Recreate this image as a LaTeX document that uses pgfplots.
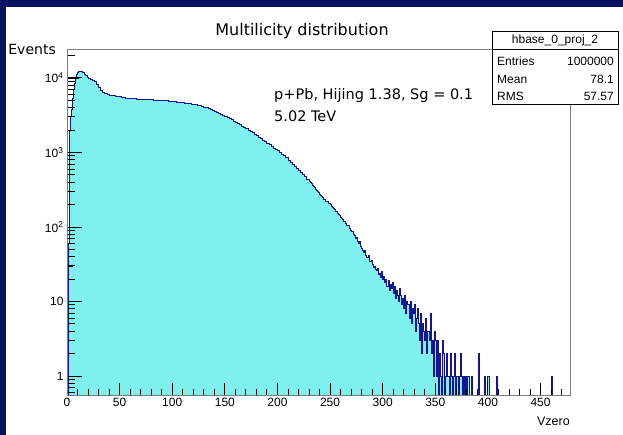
\documentclass[border=0pt]{standalone}
\usepackage{pgfplots}
\pgfplotsset{compat=1.18}
\usepackage{pgfplotstable}
\usepackage{fontspec}
\setmainfont{Liberation Sans}
\newfontfamily\dejavu{DejaVu Sans}
\definecolor{navy}{RGB}{8,18,96}
\definecolor{hfill}{RGB}{126,240,238}
\definecolor{hline}{RGB}{20,20,150}
\definecolor{framegray}{RGB}{125,125,125}
\pgfplotstableread{
x y
0 0.001
1 60
2 1950
3 3000
4 3800
5 5250
6 7080
7 8510
8 9800
9 11000
10 11700
11 12100
12 12300
13 12300
14 12200
15 12000
16 11700
17 11300
18 10800
19 10300
20 9900
22 9440
24 9230
26 8900
28 8130
30 7410
32 6900
34 6460
36 6170
38 6000
40 5920
42 5890
44 5800
46 5730
48 5680
50 5600
52 5500
54 5400
56 5330
58 5300
60 5280
62 5260
64 5250
66 5230
68 5200
70 5180
72 5160
74 5140
76 5120
78 5100
80 5080
82 5060
84 5040
86 5020
88 5010
90 4990
92 4960
94 4920
96 4900
98 4870
100 4820
102 4790
104 4760
106 4720
108 4680
110 4650
112 4620
114 4580
116 4530
118 4480
120 4440
122 4380
124 4310
126 4240
128 4170
130 4080
132 3990
134 3900
136 3800
138 3680
140 3580
142 3460
144 3350
146 3260
148 3160
150 3060
152 2950
154 2870
156 2780
158 2620
160 2520
162 2430
164 2360
166 2230
168 2150
170 2080
172 1990
174 1890
176 1830
178 1740
180 1680
182 1590
184 1530
186 1450
188 1390
190 1320
192 1270
194 1190
196 1150
198 1090
200 1050
202 1010
204 950
206 900
208 860
210 790
212 745
214 700
216 655
218 610
220 570
222 535
224 500
226 470
228 440
230 410
231 392
232 386
233 360
234 352
235 338
236 318
237 312
238 296
239 290
240 276
241 268
242 255
243 250
244 236
245 232
246 221
247 219
248 205
249 206
250 199
251 188
252 184
253 177
254 171
255 160
256 162
257 151
258 147
259 142
260 136
261 129
262 127
263 119
264 118
265 110
266 104
267 106
268 95
269 91
270 88
271 86
272 80
273 77
274 70
275 72
276 64
277 61
278 63
279 54
280 52
281 49
282 46
283 48
284 41
285 39
286 42
287 35
288 34
289 36
290 31
291 29
292 30
293 27
294 26
295 28
296 23
297 24
298 21
299 25
300 20
301 22
302 18
303 20
304 16
305 19
306 14
307 17
308 15
309 18
310 13
311 16
312 11
313 14
314 12
315 10
316 15
317 12
318 9
319 11
320 8
321 12
322 7
323 10
324 9
325 6
326 10
327 5
328 8
329 7
330 9
331 4
332 6
333 8
334 5
335 3
336 7
337 2
338 5
339 4
340 3
341 6
342 2
343 4
344 3
345 7
346 2
347 3
348 1
349 4
350 3
351 1
352 3
353 0.001
354 2
355 1
356 0.001
357 3
358 2
359 0.001
360 1
361 2
362 1
363 0.001
364 2
365 1
366 0.001
367 1
368 2
369 0.001
370 1
372 0.001
373 1
374 2
375 1
376 0.001
377 1
378 0.001
379 1
380 0.001
381 1
382 0.001
384 1
385 0.001
391 2
392 0.001
397 1
398 0.001
400 1
401 0.001
408 1
409 0.001
460 1
461 0.001
478 0.001
}\hist
\begin{document}
\begin{tikzpicture}
\fill[navy] (0bp,0bp) rectangle (623bp,435bp);
\fill[white] (6bp,0bp) rectangle (623bp,428bp);
\begin{axis}[
  at={(67bp,40bp)}, anchor=south west, scale only axis,
  width=503bp, height=346bp,
  ymode=log, xmin=0, xmax=478, ymin=0.556, ymax=24500,
  axis on top,
  axis line style={framegray, line width=0.9bp},
  xtick={0,50,...,500}, minor x tick num=4,
  ytick={1,10,100,1000,10000},
  yticklabels={1,10,10\textsuperscript{2},10\textsuperscript{3},10\textsuperscript{4}},
  tick align=inside, tick pos=left,
  major tick length=12bp, minor tick length=6bp,
  tick style={black, line width=0.9bp},
  ticklabel style={font=\fontsize{12bp}{14bp}\selectfont},
  /pgf/number format/assume math mode=true,
  scaled x ticks=false,
]
\addplot[const plot mark left, fill=hfill, draw=hline, line width=0.9bp] table[x=x,y=y] {\hist} -- cycle;
\end{axis}
\begin{scope}[x=1bp, y=1bp]
\foreach \e in {0,1,2,3,4}{
  \draw[black, line width=1bp] (67.5,{40+(\e+0.2549)*74.503}) -- ++(14,0);
}
\foreach \e in {0,1,2,3}{
  \foreach \k in {2,3,4,5,6,7,8,9}{
    \draw[black, line width=1bp] (67.5,{40+(\e+log10(\k)+0.2549)*74.503}) -- ++(7,0);
  }
}
\foreach \k in {6,7,8,9}{
  \draw[black, line width=1bp] (67.5,{40+(log10(\k)-1+0.2549)*74.503}) -- ++(7,0);
}
\draw[black, line width=1bp] (67.5,379.43) -- ++(7,0);
\end{scope}
\node[anchor=east, font=\dejavu\fontsize{14bp}{16bp}\selectfont, inner sep=0] at (56bp,385bp) {Events};
\node[font=\dejavu\fontsize{16bp}{18bp}\selectfont, inner sep=0] at (302bp,404bp) {Multilicity distribution};
\node[anchor=west, font=\dejavu\fontsize{14.5bp}{16bp}\selectfont, inner sep=0] at (274bp,339bp) {p+Pb, Hijing 1.38, Sg = 0.1};
\node[anchor=west, font=\dejavu\fontsize{14.5bp}{16bp}\selectfont, inner sep=0] at (274bp,319bp) {5.02 TeV};
\node[anchor=east, font=\fontsize{12.5bp}{14bp}\selectfont, inner sep=0] at (570bp,14bp) {Vzero};
% stat box
\filldraw[fill=white, draw=black, line width=0.8bp] (492bp,331bp) rectangle (618bp,404bp);
\draw[black, line width=0.8bp] (492bp,386bp) -- (618bp,386bp);
\node[font=\fontsize{12bp}{14bp}\selectfont, inner sep=0] at (555bp,395bp) {hbase\_0\_proj\_2};
\node[anchor=west, font=\fontsize{12bp}{14bp}\selectfont, inner sep=0] at (497bp,374bp) {Entries};
\node[anchor=east, font=\fontsize{12bp}{14bp}\selectfont, inner sep=0] at (614bp,374bp) {1000000};
\node[anchor=west, font=\fontsize{12bp}{14bp}\selectfont, inner sep=0] at (497bp,356bp) {Mean};
\node[anchor=east, font=\fontsize{12bp}{14bp}\selectfont, inner sep=0] at (614bp,356bp) {78.1};
\node[anchor=west, font=\fontsize{12bp}{14bp}\selectfont, inner sep=0] at (497bp,339bp) {RMS};
\node[anchor=east, font=\fontsize{12bp}{14bp}\selectfont, inner sep=0] at (614bp,339bp) {57.57};
\pgfresetboundingbox
\useasboundingbox (0bp,0bp) rectangle (623bp,435bp);
\end{tikzpicture}
\end{document}
